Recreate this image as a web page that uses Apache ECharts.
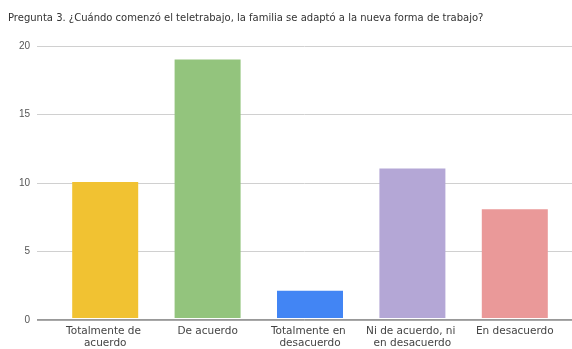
<!DOCTYPE html>
<html>
<head>
<meta charset="utf-8">
<script src="https://cdn.jsdelivr.net/npm/echarts@6/dist/echarts.min.js"></script>
<style>
  html, body { margin: 0; padding: 0; background: #fff; }
  #chart { width: 572px; height: 349px; }
</style>
</head>
<body>
<div id="chart"></div>
<script>
// Survey answers and their counts
const categories = [
  'Totalmente de acuerdo',
  'De acuerdo',
  'Totalmente en desacuerdo',
  'Ni de acuerdo, ni en desacuerdo',
  'En desacuerdo'
];
const counts = [10, 19, 2, 11, 8];
const barColors = ['#f1c232', '#93c47d', '#4285f4', '#b4a7d6', '#ea9999'];
const yTicks = [0, 5, 10, 15, 20];

const chart = echarts.init(document.getElementById('chart'), null, { renderer: 'canvas' });

chart.setOption({
  animation: false,
  backgroundColor: '#ffffff',
  title: {
    text: 'Pregunta 3. ¿Cuándo comenzó el teletrabajo, la familia se adaptó a la nueva forma de trabajo?',
    left: 3,
    top: 8,
    textStyle: { fontFamily: 'DejaVu Sans, sans-serif', fontSize: 10, fontWeight: 'normal', color: '#333' }
  },
  grid: [
    // grid carrying the value scale and its gridlines, full width
    { left: 37, right: 0, top: 46, bottom: 29, containLabel: false },
    // grid carrying the bars
    { left: 54, right: 6, top: 46, bottom: 29, containLabel: false }
  ],
  xAxis: [
    {
      gridIndex: 0, type: 'value', min: 0, max: 1, show: false
    },
    {
      gridIndex: 1,
      type: 'category',
      data: categories,
      axisLine: { show: false },
      axisTick: { show: false },
      axisLabel: {
        interval: 0,
        margin: 7,
        width: 100,
        overflow: 'break',
        lineHeight: 12,
        fontFamily: 'DejaVu Sans, sans-serif',
        fontSize: 10.5,
        color: '#444'
      }
    }
  ],
  yAxis: [
    {
      gridIndex: 0,
      type: 'value',
      min: yTicks[0],
      max: yTicks[yTicks.length - 1],
      interval: 5,
      axisLine: { show: false },
      axisTick: { show: false },
      axisLabel: {
        margin: 7,
        fontFamily: 'Liberation Sans, Arial, sans-serif',
        fontSize: 10,
        color: '#555'
      },
      splitLine: { show: true, lineStyle: { color: '#d0d0d0', width: 1 } }
    },
    {
      gridIndex: 1,
      type: 'value',
      min: yTicks[0],
      max: yTicks[yTicks.length - 1],
      interval: 5,
      show: false,
      splitLine: { show: false }
    }
  ],
  series: [
    {
      type: 'bar',
      xAxisIndex: 1,
      yAxisIndex: 1,
      barWidth: 66,
      data: counts.map((v, i) => ({ value: v, itemStyle: { color: barColors[i] } })),
      z: 3
    },
    {
      // baseline at zero across the full plot width
      type: 'line',
      xAxisIndex: 0,
      yAxisIndex: 0,
      data: [[0, 0], [1, 0]],
      symbol: 'none',
      lineStyle: { color: '#333', width: 1 },
      silent: true,
      z: 4
    }
  ]
});
</script>
</body>
</html>
